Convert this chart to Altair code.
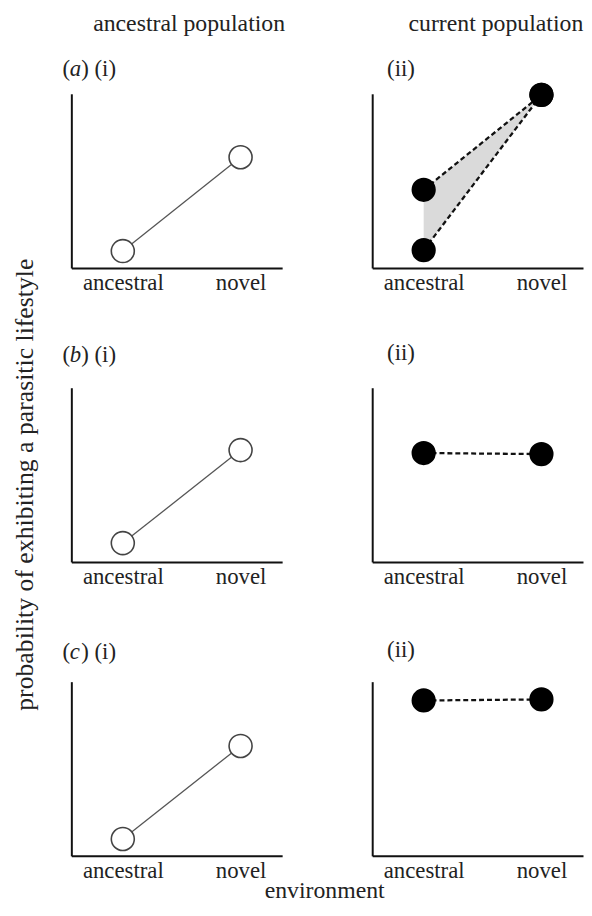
import altair as alt
import pandas as pd

# ---------------- data ----------------
environments = ["ancestral", "novel"]
env_pos = [0, 1]

# ancestral population (open circles), probability per environment
anc_a = [0.097, 0.636]
anc_b = [0.108, 0.642]
anc_c = [0.097, 0.631]

# current population (filled circles)
cur_a_upper = [0.449, 0.994]
cur_a_lower = [0.102, 0.994]
cur_b = [0.625, 0.619]
cur_c = [0.892, 0.898]

row_letters = ["a", "b", "c"]
header_left = "ancestral population"
header_right = "current population"
y_title = "probability of exhibiting a parasitic lifestyle"
x_title = "environment"

# ---------------- style ----------------
FONT = "Liberation Serif"
W, H = 213, 176
XDOM = [-0.437, 1.353]
LBL = 23


def x_enc(field="pos"):
    return alt.X(
        f"{field}:Q",
        scale=alt.Scale(domain=XDOM, nice=False, zero=False),
        axis=alt.Axis(
            values=env_pos,
            labelExpr="datum.value == 0 ? 'ancestral' : 'novel'",
            ticks=False, grid=False, title=None, labelFlush=False,
            domainColor="#111", domainWidth=2,
            labelFont=FONT, labelFontSize=LBL, labelColor="#222", labelPadding=4,
        ),
    )


def y_enc(field="p"):
    return alt.Y(
        f"{field}:Q",
        scale=alt.Scale(domain=[0, 1], nice=False),
        axis=alt.Axis(labels=False, ticks=False, grid=False, title=None,
                      domainColor="#111", domainWidth=2),
    )


def text(t, x, y, size=LBL, style="normal", align="left", angle=0):
    return alt.Chart(pd.DataFrame({"t": [t]})).mark_text(
        font=FONT, fontSize=size, fontStyle=style, align=align,
        baseline="middle", color="#222", angle=angle,
    ).encode(text="t:N", x=alt.value(x), y=alt.value(y))


def panel_tag(letter, roman, ly):
    if letter is None:
        return [text(f"({roman})", 15, ly)]
    return [
        text("(", -9, ly),
        text(letter, -1.5, ly, style="italic"),
        text(f") ({roman})", 10, ly),
    ]


def left_panel(vals, letter, extra, ly=-28):
    df = pd.DataFrame({"pos": env_pos, "p": vals, "env": environments})
    base = alt.Chart(df)
    line = base.mark_line(color="#555", strokeWidth=1.3).encode(x=x_enc(), y=y_enc())
    pts = base.mark_circle(size=540, fill="white", stroke="#444", strokeWidth=1.6,
                           opacity=1).encode(x=x_enc(), y=y_enc())
    return alt.layer(line, pts, *panel_tag(letter, "i", ly), *extra).properties(width=W, height=H)


def right_panel(series, extra, shade=None, ly=-28):
    rows = []
    for name, vals in series.items():
        for pos, env, v in zip(env_pos, environments, vals):
            rows.append({"pos": pos, "p": v, "env": env, "series": name})
    df = pd.DataFrame(rows)
    layers = []
    if shade is not None:
        lo, hi = shade
        sdf = pd.DataFrame({"pos": env_pos, "lo": lo, "hi": hi})
        layers.append(alt.Chart(sdf).mark_area(color="#dadada", opacity=1).encode(
            x=x_enc(), y=y_enc("lo"), y2="hi:Q"))
    base = alt.Chart(df)
    layers.append(base.mark_line(color="#111", strokeWidth=2.3, strokeDash=[5, 3]).encode(
        x=x_enc(), y=y_enc(), detail="series:N"))
    layers.append(base.mark_circle(size=600, color="#000", opacity=1).encode(
        x=x_enc(), y=y_enc()))
    return alt.layer(*layers, *panel_tag(None, "ii", ly), *extra).properties(width=W, height=H)


a_left = left_panel(anc_a, row_letters[0], [text(header_left, 119, -70, size=24, align="center")], ly=-25)
a_right = right_panel({"upper": cur_a_upper, "lower": cur_a_lower},
                      [text(header_right, 125, -70, size=24, align="center")],
                      shade=(cur_a_lower, cur_a_upper), ly=-25)
b_left = left_panel(anc_b, row_letters[1], [text(y_title, -47, 98, size=26, align="center", angle=270)], ly=-33)
b_right = right_panel({"cur": cur_b}, [], ly=-35)
c_left = left_panel(anc_c, row_letters[2], [text(x_title, 256, 212, size=24, align="center")], ly=-30)
c_right = right_panel({"cur": cur_c}, [], ly=-32)

chart = alt.concat(
    a_left, a_right, b_left, b_right, c_left, c_right,
    columns=2,
    spacing={"row": 121, "column": 91},
    bounds="flush",
).properties(
    padding={"left": 3, "top": 0, "right": 0, "bottom": 0}
).configure(font=FONT).configure_view(stroke="transparent", strokeWidth=0)

chart.save("out.html", embed_options={"renderer": "svg", "actions": False})
